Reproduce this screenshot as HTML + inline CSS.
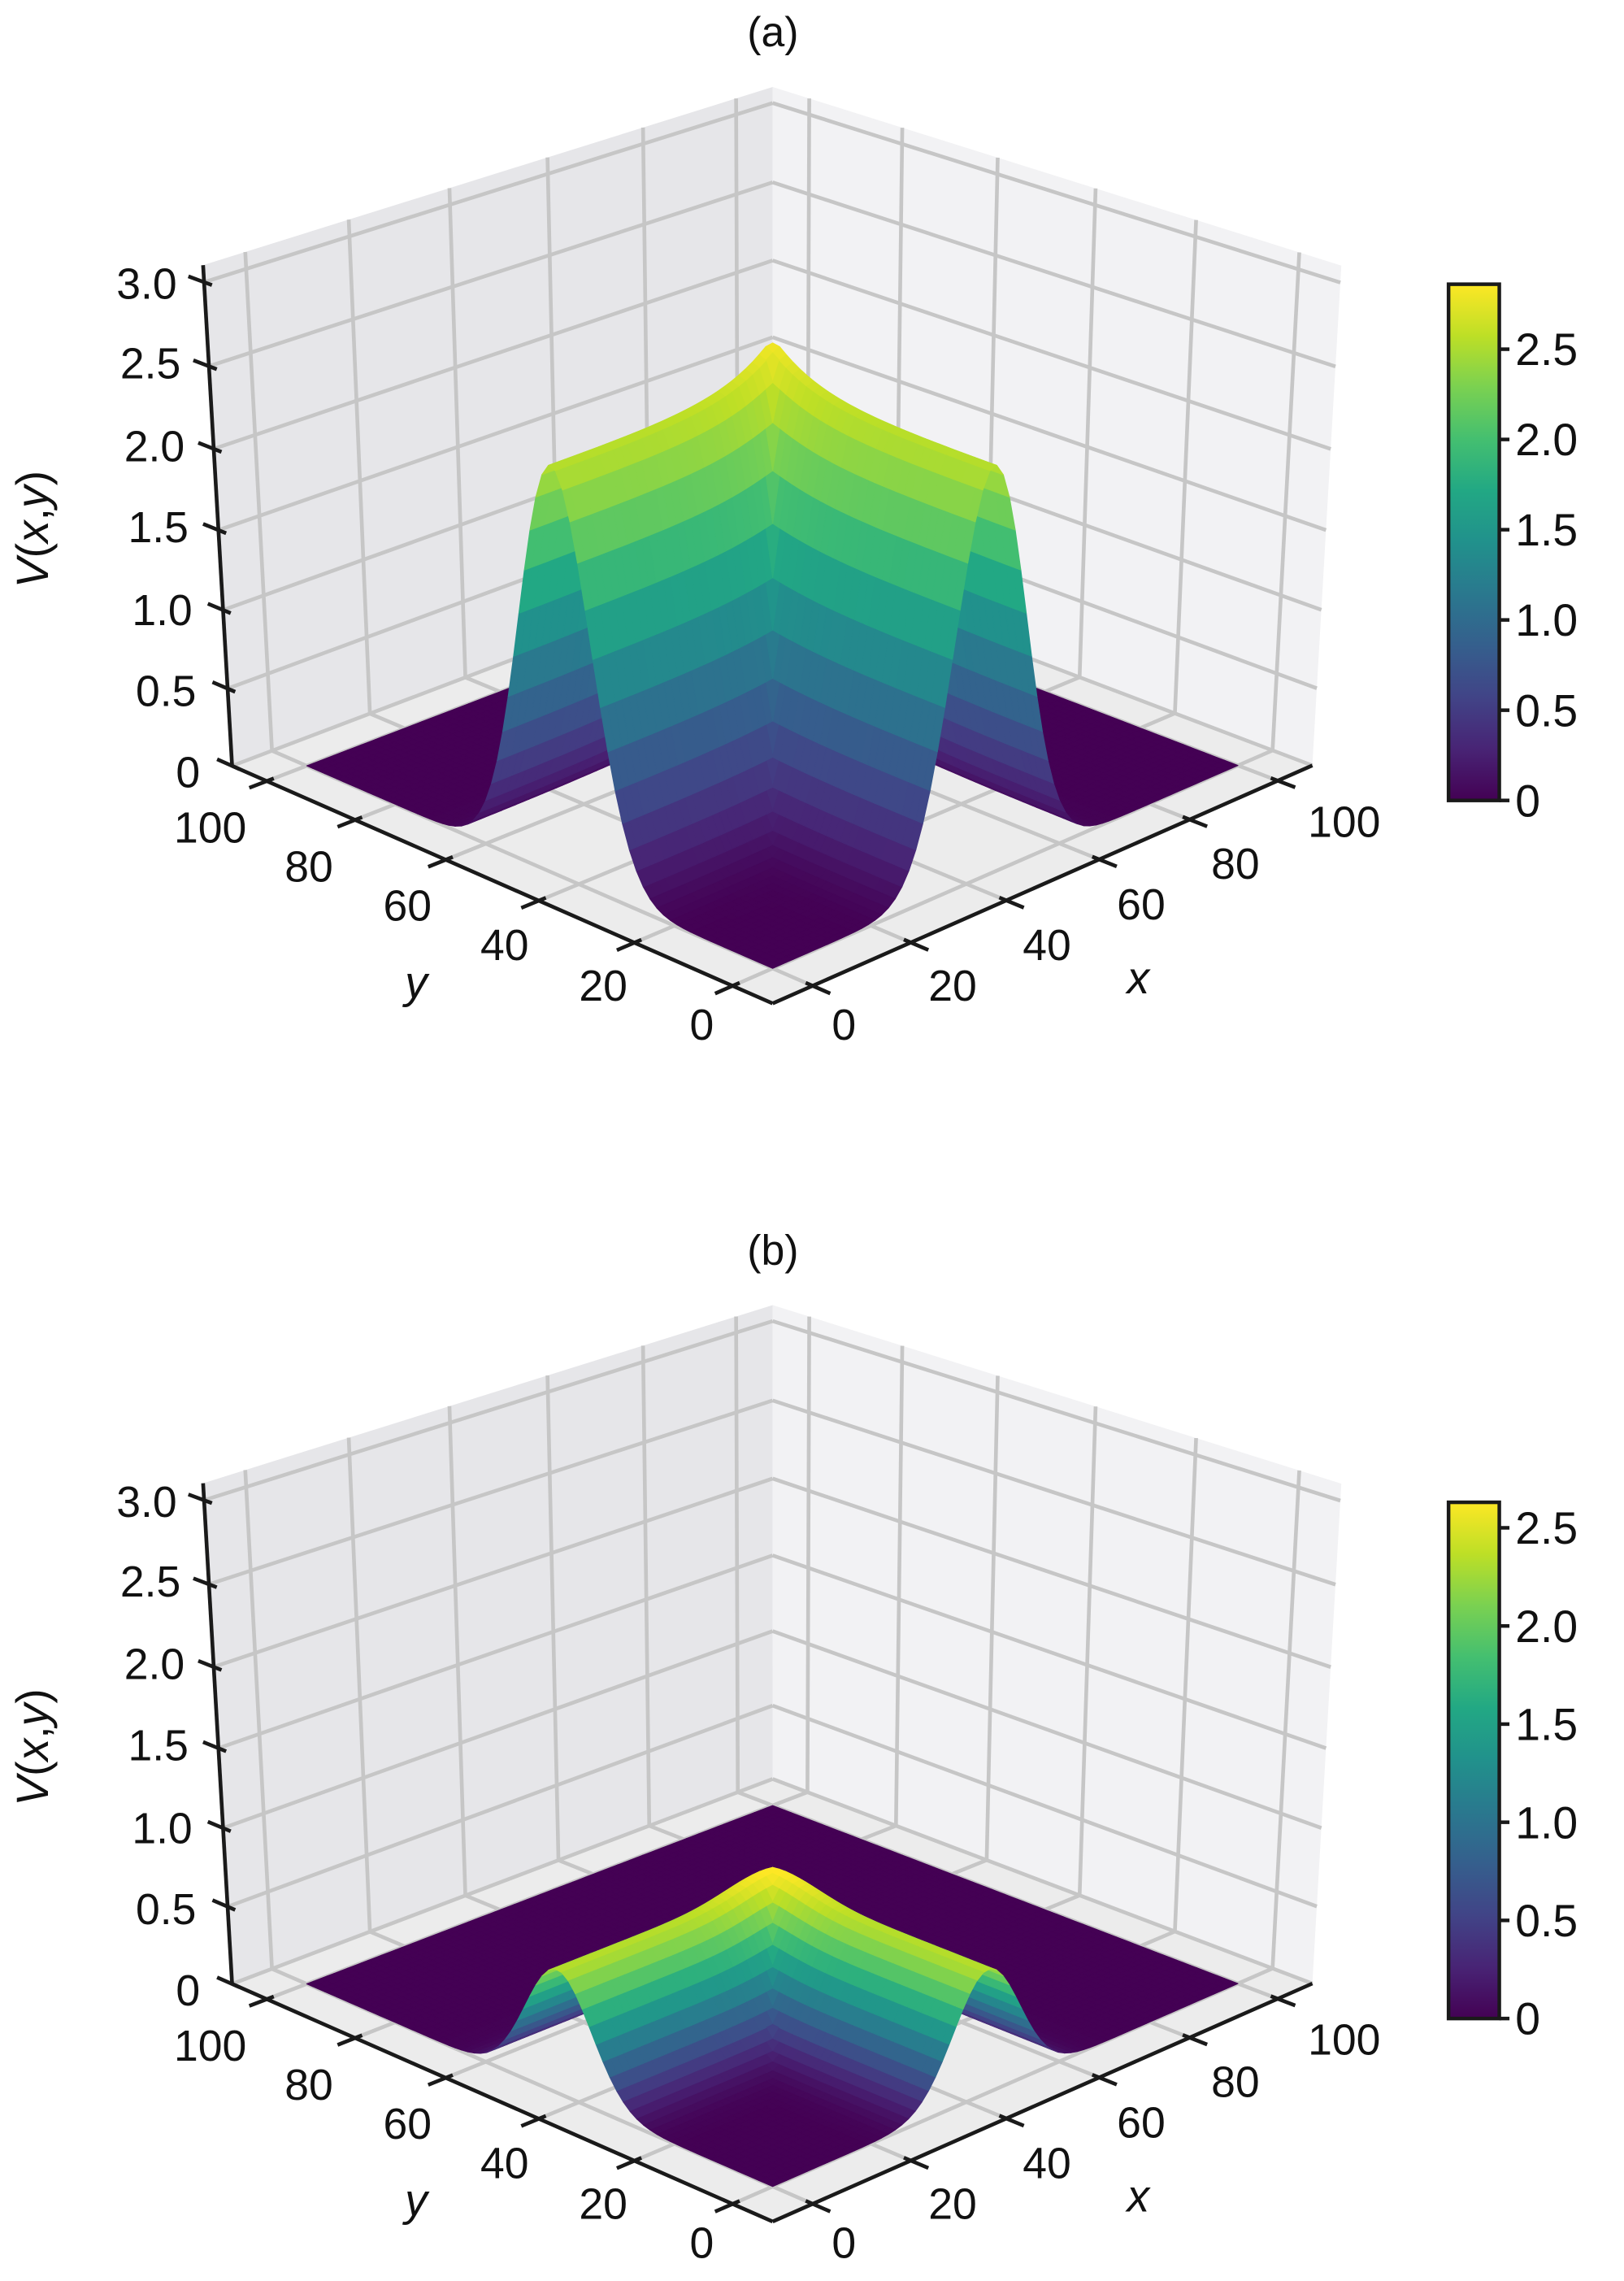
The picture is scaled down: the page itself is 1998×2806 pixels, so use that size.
<!DOCTYPE html>
<html><head><meta charset="utf-8"><style>
html,body{margin:0;padding:0;background:#fff;}
svg{display:block;}
text{font-family:"Liberation Sans",sans-serif;fill:#111;}
</style></head><body>
<svg id="s" xmlns="http://www.w3.org/2000/svg" width="1998" height="2806" viewBox="0 0 1120 1573" preserveAspectRatio="none">
<defs>
<linearGradient id="vir" x1="0" y1="1" x2="0" y2="0">
<stop offset="0" stop-color="#440154"/><stop offset="0.1" stop-color="#482475"/><stop offset="0.2" stop-color="#414487"/><stop offset="0.3" stop-color="#355f8d"/><stop offset="0.4" stop-color="#2a788e"/><stop offset="0.5" stop-color="#21918c"/><stop offset="0.6" stop-color="#22a884"/><stop offset="0.7" stop-color="#44bf70"/><stop offset="0.8" stop-color="#7ad151"/><stop offset="0.9" stop-color="#bddf26"/><stop offset="1" stop-color="#fde725"/>
</linearGradient>
</defs>
<g id="pa"></g><g id="pb"></g>
<g font-size="29">
<text x="533" y="32" text-anchor="middle">(a)</text>
<text x="533" y="872" text-anchor="middle">(b)</text>
</g>
</svg>
<script>
(function(){
var NS="http://www.w3.org/2000/svg";
var V=[[0,[68,1,84]],[0.1,[72,36,117]],[0.2,[65,68,135]],[0.3,[53,95,141]],[0.4,[42,120,142]],[0.5,[33,145,140]],[0.6,[34,168,132]],[0.7,[68,191,112]],[0.8,[122,209,81]],[0.9,[189,223,38]],[1,[253,231,37]]];
function vir(t){t=Math.max(0,Math.min(1,t));for(var i=0;i<V.length-1;i++){if(t<=V[i+1][0]){var f=(t-V[i][0])/(V[i+1][0]-V[i][0]);var a=V[i][1],b=V[i+1][1];return "rgb("+Math.round(a[0]+(b[0]-a[0])*f)+","+Math.round(a[1]+(b[1]-a[1])*f)+","+Math.round(a[2]+(b[2]-a[2])*f)+")";}}return "rgb(253,231,37)";}
function solve(A,b){var n=b.length;for(var i=0;i<n;i++){var m=i;for(var k=i+1;k<n;k++)if(Math.abs(A[k][i])>Math.abs(A[m][i]))m=k;var t=A[i];A[i]=A[m];A[m]=t;t=b[i];b[i]=b[m];b[m]=t;for(var k=i+1;k<n;k++){var f=A[k][i]/A[i][i];for(var j=i;j<n;j++)A[k][j]-=f*A[i][j];b[k]-=f*b[i];}}var x=new Array(n);for(var i=n-1;i>=0;i--){var s=b[i];for(var j=i+1;j<n;j++)s-=A[i][j]*x[j];x[i]=s/A[i][i];}return x;}
function fit(pts){var rows=[],rhs=[];pts.forEach(function(p){var X=p[0],Y=p[1],Z=p[2],u=p[3],v=p[4];rows.push([X,Y,Z,1,0,0,0,0,-u*X,-u*Y,-u*Z]);rhs.push(u);rows.push([0,0,0,0,X,Y,Z,1,-v*X,-v*Y,-v*Z]);rhs.push(v);});
var N=[],c=[];for(var i=0;i<11;i++){N.push(new Array(11).fill(0));c.push(0);}
for(var r=0;r<rows.length;r++){for(var i=0;i<11;i++){c[i]+=rows[r][i]*rhs[r];for(var j=0;j<11;j++)N[i][j]+=rows[r][i]*rows[r][j];}}
return solve(N,c);}
function el(tag,at,par){var e=document.createElementNS(NS,tag);for(var k in at)e.setAttribute(k,at[k]);par.appendChild(e);return e;}
function panel(gid,dy,A,s,P,cusp,bw,kz,C0,cbmax){
var g=document.getElementById(gid);
var Pm=fit([[0,0,0,533,692+dy],[0,1,0,160,528+dy],[1,0,0,905,528+dy],[1,1,1,533,60+dy],[0,1,1,140,183+dy],[1,0,1,925,183+dy]]);
function pr(X,Y,Z){var w=Pm[8]*X+Pm[9]*Y+Pm[10]*Z+1;return [(Pm[0]*X+Pm[1]*Y+Pm[2]*Z+Pm[3])/w,(Pm[4]*X+Pm[5]*Y+Pm[6]*Z+Pm[7])/w,w];}
var x0=-8,x1=108,z0=0,z1=3.1;
function nx(x){return (x-x0)/(x1-x0);}function nz(z){return (z-z0)/(z1-z0);}
function pt(a){return a[0].toFixed(2)+","+a[1].toFixed(2);}
function poly(list,fill){el("polygon",{points:list.map(pt).join(" "),fill:fill},g);}
function line(a,b,col,w){el("line",{x1:a[0].toFixed(2),y1:a[1].toFixed(2),x2:b[0].toFixed(2),y2:b[1].toFixed(2),stroke:col,"stroke-width":w,"stroke-linecap":"butt"},g);}
poly([pr(0,1,0),pr(1,1,0),pr(1,1,1),pr(0,1,1)],"#e6e6e9");
poly([pr(1,0,0),pr(1,1,0),pr(1,1,1),pr(1,0,1)],"#f2f2f4");
poly([pr(0,0,0),pr(1,0,0),pr(1,1,0),pr(0,1,0)],"#ececec");
var gc="#c6c6c6",gw=2.6;
for(var t=0;t<=100;t+=20){var X=nx(t);
 line(pr(X,0,0),pr(X,1,0),gc,gw); line(pr(X,1,0),pr(X,1,1),gc,gw);
 line(pr(0,X,0),pr(1,X,0),gc,gw); line(pr(1,X,0),pr(1,X,1),gc,gw);}
for(var z=0;z<=3.0001;z+=0.5){var Z=nz(z);line(pr(0,1,Z),pr(1,1,Z),gc,gw);line(pr(1,0,Z),pr(1,1,Z),gc,gw);}
var n=72,xs=[],F=[];
for(var i=0;i<=n;i++)xs.push(100*i/n);
function G(t){return Math.exp(-0.5*Math.pow((t-C0)/s,2));}
function H(t){return t<=C0?1:Math.exp(-0.5*Math.pow((t-C0)/s,2));}
function f(x,y){var r=Math.sqrt((x-C0)*(x-C0)+(y-C0)*(y-C0));
 var b=cusp?Math.exp(-r/bw):Math.exp(-0.5*r*r/(bw*bw));
 return Math.max(A*G(y)*H(x),A*G(x)*H(y))+P*b;}
var faces=[];var vmax=cbmax;
for(var i=0;i<=n;i++){F.push([]);for(var j=0;j<=n;j++){F[i].push(f(xs[i],xs[j]));}}
for(var i=0;i<n;i++)for(var j=0;j<n;j++){
 var c=[[i,j],[i+1,j],[i+1,j+1],[i,j+1]].map(function(q){return pr(nx(xs[q[0]]),nx(xs[q[1]]),nz(kz*F[q[0]][q[1]]));});
 var zavg=(F[i][j]+F[i+1][j]+F[i+1][j+1]+F[i][j+1])/4;
 var cen=pr(nx((xs[i]+xs[i+1])/2),nx((xs[j]+xs[j+1])/2),nz(kz*zavg));
 faces.push({c:c,z:zavg,w:cen[2]});}
var wF=pr(0,0,0)[2],wB=pr(1,1,0)[2];var sg=(wB>wF)?-1:1;
faces.sort(function(a,b){return sg*(a.w-b.w);});
faces.forEach(function(fc){var col=vir(fc.z/(vmax*0.98));el("polygon",{points:fc.c.map(pt).join(" "),fill:col,stroke:col,"stroke-width":0.6,"stroke-linejoin":"round"},g);});
var k="#1a1a1a";
line(pr(0,0,0),pr(1,0,0),k,2.6);line(pr(0,0,0),pr(0,1,0),k,2.6);line(pr(0,1,0),pr(0,1,1),k,2.6);
for(var t=0;t<=100;t+=20){var X=nx(t);
 line(pr(X,0.012,0),pr(X,-0.03,0),k,2.6);line(pr(0.012,X,0),pr(-0.03,X,0),k,2.6);}
for(var z=0;z<=3.0001;z+=0.5){var Z=nz(z);line(pr(0,0.985,Z),pr(0,1.03,Z),k,2.6);}
function tx(x,y,str,anc){var e=el("text",{x:x,y:y+dy,"font-size":30,"text-anchor":anc||"middle"},g);e.textContent=str;}
var yl=[[484,717,"0"],[416,690,"20"],[348,662,"40"],[281,635,"60"],[213,608,"80"],[145,581,"100"]];
var xl=[[582,717,"0"],[657,690,"20"],[722,662,"40"],[787,634,"60"],[852,606,"80"],[927,577,"100"]];
yl.concat(xl).forEach(function(q){tx(q[0],q[1],q[2]);});
var zl=[["0",533],["0.5",477],["1.0",421],["1.5",364],["2.0",308],["2.5",251],["3.0",196]];
zl.forEach(function(q){tx(122+(q[1]-196)/337*16,q[1]+10,q[0],"end");});
var e=el("text",{x:785,y:685+dy,"font-size":31,"font-style":"italic","text-anchor":"middle"},g);e.textContent="x";
e=el("text",{x:287,y:688+dy,"font-size":31,"font-style":"italic","text-anchor":"middle"},g);e.textContent="y";
e=el("text",{x:0,y:0,"font-size":31,"text-anchor":"middle",transform:"translate(33,"+(365+dy)+") rotate(-90)"},g);
e.innerHTML='<tspan font-style="italic">V</tspan>(<tspan font-style="italic">x</tspan>,<tspan font-style="italic">y</tspan>)';
var top=196+dy,bot=552+dy;
el("rect",{x:999,y:top,width:35,height:bot-top,fill:"url(#vir)",stroke:"#1a1a1a","stroke-width":2.5},g);
for(var v=0;v<=2.5001;v+=0.5){var yy=bot-(bot-top)*v/vmax;line([1034,yy],[1041,yy],k,2.5);
 var e2=el("text",{x:1045,y:yy+11,"font-size":31},g);e2.textContent=(v===0?"0":v.toFixed(1));}
}
panel("pa",0,2.5,7.5,0.28,true,9,1,44,2.86);
panel("pb",840,2.3,7,0.3,false,8,0.34,44,2.63);
})();
</script>
</body></html>
